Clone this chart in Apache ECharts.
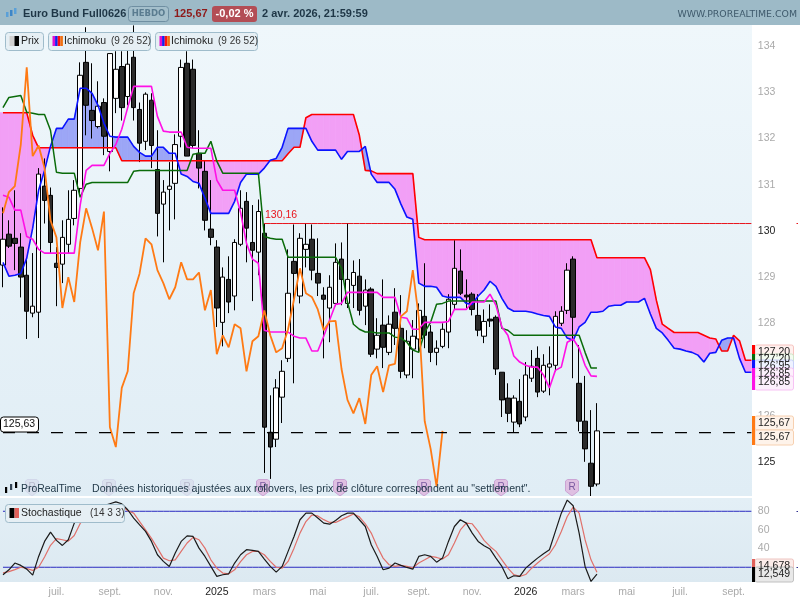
<!DOCTYPE html>
<html><head><meta charset="utf-8">
<style>html,body{margin:0;padding:0;background:#fff}#c{width:800px;height:600px}</style>
<script src="https://cdn.jsdelivr.net/npm/echarts@6/dist/echarts.min.js"></script>
</head><body><div id="c"></div>
<script>
const opens=[129.26,129.93,129.84,129.65,129.04,128.22,128.24,130.97,130.77,129.30,
129.28,129.71,130.27,130.92,133.65,132.61,132.26,132.78,131.72,132.87,
133.56,132.91,133.76,132.63,131.94,132.83,131.33,130.58,130.90,131.03,
132.05,133.63,133.50,131.68,131.29,130.04,129.65,128.02,128.95,128.59,
129.71,130.64,129.75,129.54,129.95,125.64,125.49,126.40,127.24,129.34,
128.59,129.60,129.82,129.08,128.61,128.33,128.43,129.39,128.43,128.82,
129.02,128.37,128.74,127.44,127.96,127.37,128.24,127.89,126.88,127.44,
127.66,128.15,127.81,127.37,127.50,127.81,128.41,129.13,128.61,128.63,
128.17,127.72,128.09,128.13,126.94,126.38,125.86,126.31,125.97,126.81,
127.24,126.53,127.05,127.09,128.00,128.28,129.39,126.70,125.88,124.97,124.52];
const closes=[129.82,129.67,129.73,129.00,128.26,128.37,131.23,130.66,129.75,129.21,
129.86,130.25,130.88,133.37,132.72,132.39,132.70,132.05,133.84,133.50,
132.67,133.61,132.67,131.90,132.96,131.85,130.38,130.84,130.97,131.87,
133.54,131.62,131.85,131.36,130.23,129.86,128.33,129.00,128.46,129.75,
130.49,130.06,129.58,130.42,125.75,125.32,126.60,126.96,128.65,129.08,
129.84,129.71,129.15,128.87,128.52,128.78,129.32,128.95,128.95,129.10,
128.28,128.72,127.33,127.74,127.48,127.98,127.89,126.96,127.61,127.72,
128.28,127.74,127.37,127.46,127.87,128.52,129.19,128.65,128.57,128.30,
127.85,128.04,128.05,127.01,126.34,126.05,126.38,125.82,126.88,127.07,
126.51,127.09,127.12,128.15,128.26,129.15,128.13,125.88,125.28,124.47,125.67];
const highs=[130.51,130.23,130.88,129.95,129.41,129.52,131.36,131.57,130.94,129.65,
130.23,130.88,131.10,133.65,134.41,133.63,133.24,132.87,133.84,133.89,
133.89,133.91,134.45,132.78,133.00,132.98,132.18,131.10,131.49,132.09,
133.71,133.89,133.71,132.18,131.53,131.10,129.80,129.21,129.45,129.82,
130.88,130.84,130.56,130.68,130.16,126.44,126.79,127.20,129.60,130.14,
129.95,130.17,130.14,129.84,128.78,129.04,129.73,129.75,130.17,129.36,
129.39,128.95,128.78,128.11,128.95,128.17,128.76,128.61,127.85,128.07,
128.43,129.30,127.96,127.63,128.00,128.63,129.80,129.60,128.95,128.67,
128.63,128.30,128.41,128.17,126.94,126.70,126.44,126.79,127.16,127.42,
127.50,127.33,127.50,128.26,128.37,129.30,129.45,127.53,126.86,126.12,126.27];
const lows=[128.78,129.63,129.15,128.56,127.66,128.13,127.68,130.16,129.52,128.37,
128.87,129.52,130.12,130.77,132.07,132.00,132.22,131.64,131.29,132.55,
132.39,132.72,132.39,131.49,131.75,131.36,129.88,129.32,130.01,130.25,
131.81,131.62,131.79,130.92,130.01,129.69,127.92,127.50,128.22,128.28,
129.67,129.32,128.48,129.04,124.76,124.63,125.32,125.84,127.16,126.70,
128.43,129.21,128.93,128.59,127.24,127.59,128.37,128.39,128.33,128.33,
128.17,127.96,127.27,127.24,127.03,127.31,127.53,126.81,126.81,126.81,
127.37,127.46,127.16,127.09,127.46,127.46,128.30,128.61,128.33,128.17,
127.72,127.57,127.92,126.88,125.97,125.86,125.64,125.75,125.88,126.73,
126.40,126.49,126.44,126.96,127.94,128.20,126.81,125.66,125.00,124.24,124.47];
const senkouB=[132.56,132.56,132.56,132.56,132.56,132.07,
131.80,131.80,131.80,131.80,131.80,131.80,131.80,131.80,131.80,131.80,131.80,131.80,131.80,131.80,
131.52,131.52,131.52,131.52,131.52,131.52,131.52,131.52,131.52,131.52,131.52,131.52,131.52,131.52,
131.52,131.52,131.52,131.52,131.52,131.52,131.52,131.52,131.52,131.52,131.52,131.52,131.52,131.52,
131.67,131.81,131.81,132.45,132.52,132.52,132.52,132.52,132.52,132.52,132.52,132.52,
132.07,131.31,131.30,131.24,131.24,131.24,131.24,131.24,131.24,131.24,129.86,
129.81,129.81,129.81,129.81,129.81,129.81,129.81,129.81,129.81,129.81,129.81,129.81,129.81,129.81,129.81,
129.81,129.81,129.81,129.81,129.81,129.81,129.81,129.81,129.81,129.81,129.81,129.81,129.81,129.81,
129.42,129.42,129.42,129.42,129.42,129.42,129.42,129.42,129.42,
129.16,128.50,127.98,127.89,127.80,127.80,127.80,127.80,127.80,127.74,127.68,127.66,127.40,127.40,127.74,127.62,127.20,127.20];
const senkouA=[129.32,129.02,129.04,129.08,129.41,130.06,130.88,131.31,131.83,132.22,
132.22,132.42,132.42,133.09,133.09,132.98,132.72,132.33,132.05,132.03,
132.03,132.03,131.83,131.70,131.62,131.62,131.81,131.81,131.68,131.68,
131.23,131.18,131.07,131.03,130.71,130.38,130.38,130.38,130.38,130.64,
131.05,131.23,131.23,131.23,131.36,131.53,131.57,131.81,132.22,132.22,
132.22,132.22,131.94,131.75,131.75,131.75,131.75,131.55,131.72,131.72,
131.72,131.83,131.23,131.05,131.05,131.05,130.90,130.58,130.30,130.25,
128.87,128.80,128.80,128.78,128.59,128.56,128.56,128.56,128.43,128.41,
128.59,128.72,128.91,128.80,128.54,128.33,128.26,128.26,128.26,128.24,
128.20,128.17,128.15,127.92,127.89,127.68,127.63,127.92,128.02,128.24,
128.24,128.26,128.37,128.39,128.39,128.46,128.46,128.46,128.54,128.20,
127.89,127.79,127.63,127.46,127.44,127.40,127.37,127.31,127.16,127.35,
127.37,127.63,127.68,127.68,127.24,126.94,126.94];
const kijun=[132.67,132.89,132.91,132.93,132.57,132.55,132.52,132.52,132.18,131.27,
131.25,131.25,131.25,130.73,131.01,131.05,131.05,131.05,131.05,131.05,
131.05,131.05,131.29,131.31,131.31,131.31,131.31,131.31,131.31,131.31,
131.31,131.31,131.66,131.68,131.68,131.94,131.51,131.25,131.25,131.25,
131.25,131.25,131.25,131.25,129.88,129.84,129.82,129.82,129.43,129.43,
129.43,129.43,129.43,129.43,129.43,129.43,129.43,129.19,128.46,127.98,
127.87,127.81,127.81,127.79,127.79,127.79,127.70,127.68,127.59,127.42,
127.37,127.81,128.02,128.41,128.43,128.48,128.48,128.48,128.48,128.48,
128.48,128.48,128.48,128.48,127.89,127.85,127.74,127.74,127.74,127.74,
127.74,127.74,127.74,127.74,127.74,127.74,127.74,127.74,127.37,127.03,127.03];
const tenkan=[130.77,130.73,130.45,130.45,129.88,129.82,129.60,129.52,129.52,129.52,
129.52,129.52,129.52,130.56,131.31,131.42,131.42,131.42,131.68,131.87,
132.20,132.67,133.13,133.13,133.13,133.13,132.48,132.16,132.14,132.14,
132.14,131.81,131.79,131.79,131.79,131.79,131.10,130.88,130.88,130.88,
130.40,129.73,129.39,129.30,127.85,127.81,127.81,127.81,127.81,127.72,
127.68,127.68,127.40,127.40,127.72,128.07,128.41,128.43,128.67,128.67,
128.67,128.67,128.67,128.67,128.56,128.56,128.56,128.13,128.11,127.87,
127.87,128.02,128.02,128.02,128.02,128.04,128.30,128.30,128.30,128.46,
128.46,128.46,128.63,128.39,127.92,127.74,127.29,127.16,127.09,127.05,
127.05,126.88,126.60,126.98,127.05,127.59,127.66,127.46,127.09,126.86,126.85];
const chikou=[130.38,130.84,130.97,131.87,133.54,131.62,131.85,131.36,130.23,129.86,
128.33,129.00,128.46,129.75,130.49,130.06,129.58,130.42,125.75,125.32,
126.60,126.96,128.65,129.08,129.84,129.71,129.15,128.87,128.52,128.78,
129.32,128.95,128.95,129.10,128.28,128.72,127.33,127.74,127.48,127.98,
127.89,126.96,127.61,127.72,128.28,127.74,127.37,127.46,127.87,128.52,
129.19,128.65,128.57,128.30,127.85,128.04,128.05,127.01,126.34,126.05,
126.38,125.82,126.88,127.07,126.51,127.09,127.12,128.15,128.26,129.15,
128.13,125.88,125.28,124.47,125.67];
const stochK=[12,17.3,24.5,22,18,11.6,31.6,47.7,57.7,48.8,
43.4,49.5,67.3,78,80,84,84,86,88,90,
88,81.6,72.7,65.5,58.4,47.7,33.4,26.3,20.9,35.2,
47.7,53.7,53,40.5,31.6,20.9,10.2,12,13,24.5,
33.4,38.8,38,37,28.8,20.9,14.8,20.9,37,53,
70.9,78,78,72.7,67.3,66.2,70.2,75.2,78,78,
70.9,63.7,44.1,31.6,17.3,19.1,24.5,22,19.8,18,
31.6,33.4,31.6,25.5,29.8,47.7,63.7,70.9,67.3,56.6,
47.7,43,39.5,29.8,20.9,7.7,10.9,10.2,19.1,24.5,
29.8,34.5,38.8,58.4,78,92,85.9,56.6,20.9,4.8,12.55];
const stochD=[14,15.3,17.5,20,18.7,16.6,20,31,43.5,50.6,
49.5,48,54,67,75,80,83,84,86,87,
86,80.5,78,69,60,51,40.5,29.8,27,28,
37,46,52,49.5,40.5,28,19,13.8,13,17.3,
26,33.4,37,37,33.4,26.3,20,19,26.3,40.5,
56.6,69,76,75,71,68,68,71,74,77,
74,66.6,56.6,42.3,29.8,22.7,20.9,22,20.9,19.5,
24.5,28,31.6,30.5,28.8,33.4,46,60,67.3,66.6,
58.4,48.8,42.3,37,28,19,12.2,10.2,12.2,19,
24.5,29.8,34.5,44,58.4,74.4,84.4,78,49.5,28,14.68];
const lastPriceLevel=125.63, highLevel=130.16, highStart=44, stochLevels=[80,20];
const tickIndex=[9,18,27,36,44,53,62,70,79,88,96,105,114,123];
const tickText=['juil.','sept.','nov.','2025','mars','mai','juil.','sept.','nov.','2026','mars','mai','juil.','sept.'];
const categories=senkouB.map((_,i)=>String(i));
const ohlc=opens.map((o,i)=>[o,closes[i],lows[i],highs[i]]);
const FF="'Liberation Sans'";
const G=echarts.graphic;

function renderCloud(params,api){
  const i=params.dataIndex;
  if(i>=senkouA.length-1) return null;
  const a0=api.coord([i,senkouA[i]]),a1=api.coord([i+1,senkouA[i+1]]);
  const b0=api.coord([i,senkouB[i]]),b1=api.coord([i+1,senkouB[i+1]]);
  const COL=(d)=>d>=0?'#f29ff6':'#9ca6f6';
  const d0=senkouB[i]-senkouA[i],d1=senkouB[i+1]-senkouA[i+1];
  const poly=(pts,c)=>({type:'polygon',shape:{points:pts},style:{fill:c,stroke:c,lineWidth:.8}});
  if(d0*d1>=0){
    const pts=[a0,a1,b1,b0];
    if(i===0){ pts[0]=[0,a0[1]]; pts[3]=[0,b0[1]]; pts.splice(1,0,a0); pts.splice(4,0,b0); }
    return poly(pts,COL(d0!==0?d0:d1));
  }
  const t=d0/(d0-d1);
  const m=[a0[0]+(a1[0]-a0[0])*t,a0[1]+(a1[1]-a0[1])*t];
  return {type:'group',children:[poly([a0,m,b0],COL(d0)),poly([m,a1,b1],COL(d1))]};
}
function line(name,data,color,width,extra){
  return Object.assign({name,type:'line',data,symbol:'none',showSymbol:false,silent:true,
    lineStyle:{color,width},z:5,xAxisIndex:0,yAxisIndex:0,animation:false},extra||{});
}
const series=[
 {type:'custom',name:'cloud',data:senkouA.map((a,i)=>[i,a,senkouB[i]]),renderItem:renderCloud,
  encode:{x:0,y:[1,2]},xAxisIndex:0,yAxisIndex:0,z:2,silent:true,animation:false,clip:false},
 {type:'candlestick',name:'Prix',data:ohlc,barWidth:5,xAxisIndex:0,yAxisIndex:0,z:3,silent:true,animation:false,
  itemStyle:{color:'#ffffff',color0:'#2b2b2b',borderColor:'#000',borderColor0:'#000',borderWidth:1}},
 line('level',categories.map(()=>lastPriceLevel),'#000',1.2,{lineStyle:{color:'#000',width:1.2,type:[12,12]},z:6}),
 line('high',categories.map((_,i)=>i>=highStart?highLevel:null),'#e8141c',1,{z:4}),
 line('SpanB',senkouB,'#ff0000',1.6),
 line('SpanA',senkouA,'#0a14ff',1.6),
 line('Kijun',kijun,'#0a6b0a',1.5),
 line('Tenkan',tenkan,'#ff10e6',1.6),
 line('Chikou',chikou,'#ff7a14',1.8),
 line('s80',categories.map(()=>stochLevels[0]),'#2a2ac0',1,{xAxisIndex:1,yAxisIndex:1,z:3}),
 line('s20',categories.map(()=>stochLevels[1]),'#2a2ac0',1,{xAxisIndex:1,yAxisIndex:1,z:3}),
 line('%D',stochD,'#e0706a',1.2,{xAxisIndex:1,yAxisIndex:1,z:4}),
 line('%K',stochK,'#1a1a1a',1.2,{xAxisIndex:1,yAxisIndex:1,z:5})
];
const els=[];
function rect(x,y,w,h,fill,stroke,r,z,lw){els.push({type:'rect',silent:true,z:z===undefined?100:z,shape:{x,y,width:w,height:h,r:r||0},style:{fill,stroke:stroke||null,lineWidth:lw||1}});}
function text(x,y,t,fill,font,z,align){els.push({type:'text',silent:true,z:z===undefined?101:z,style:{x,y,text:t,fill,font,align:align||'left',verticalAlign:'middle'}});}
const grad=(c0,c1)=>new G.LinearGradient(0,0,0,1,[{offset:0,color:c0},{offset:1,color:c1}]);
// panels
rect(0,25,752,471,grad('#eff7fb','#e0edf5'),null,0,-10);
rect(0,498,752,84,grad('#e3eff6','#dce9f1'),null,0,-10);
rect(0,496,752,2,'#fff',null,0,90);
rect(752,25,48,471,'#fff',null,0,-9);
// header
rect(0,0,800,25,'#9dbac7',null,0,100);
[[6,12,5,'#5aa0d8'],[10,10,6,'#3d86c8'],[14,8,6,'#5aa0d8']].forEach(c=>{rect(c[0],c[1],2.5,c[2],c[3],null,0,101);});
text(23,14,'Euro Bund Full0626','#1e3646',"bold 11px "+FF);
rect(128.5,6.5,40,15,'rgba(255,255,255,0.08)','#6f8fa2',3,101);
text(148.5,14,'HEBDO','#5a7c90',"bold 8.5px 'DejaVu Sans'",102,'center');
text(174,14,'125,67','#8e1a1a',"bold 11px "+FF);
rect(212,6,45,16,'#b34d55',null,3,101);
text(234.5,14,'-0,02 %','#ffffff',"bold 11px "+FF,102,'center');
text(262,14,'2 avr. 2026, 21:59:59','#1e3646',"bold 11px "+FF);
text(797,15,'WWW.PROREALTIME.COM','#3f5a6c',"9.4px 'DejaVu Sans'",101,'right');
// legend boxes
function box(x,y,w,h){rect(x+.5,y+.5,w,h,'#e6eff4','#9fbccb',3,101);}
box(5,32,38,18);
rect(9.5,36,5,10,'#d0d0d0',null,0,102);rect(14.5,36,4.5,10,'#000',null,0,102);
text(21,41.5,'Prix','#222',"10.5px "+FF,102);
[[48],[155]].forEach(b=>{const x=b[0];box(x,32,102,18);
 [['#e010d0',0],['#1020f0',2.6],['#ff1010',5.2],['#f07010',7.8]].forEach(s=>rect(x+4.5+s[1],36,2.6,10,s[0],null,0,102));
 text(x+16,41.5,'Ichimoku','#222',"10.5px "+FF,102);
 text(x+63,41.5,'(9 26 52)','#333',"10px "+FF,102);
});
box(5,504,119,18);
rect(9.5,508,5,10,'#000',null,0,102);rect(14.5,508,4.5,10,'#e0605a',null,0,102);
text(21,513.5,'Stochastique','#222',"10.5px "+FF,102);
text(90,513.5,'(14 3 3)','#333',"10px "+FF,102);
// R markers
function marker(x,strong){
 const c=strong?'#dfc0e2':'rgba(210,210,230,0.45)';
 const s=strong?'#cba4d4':'rgba(200,200,225,0.5)';
 els.push({type:'polygon',silent:true,z:strong?60:20,shape:{points:[[x-6.5,481],[x-4.5,479.5],[x+4.5,479.5],[x+6.5,481],[x+6.5,491],[x,496],[x-6.5,491]]},style:{fill:c,stroke:s,lineWidth:1}});
 text(x,487,'R',strong?'#7a5aa0':'#b8b8cc',"10px "+FF,strong?61:21,'center');
}
[32,109,187].forEach(x=>marker(x,false));
[263,340,424,501,572].forEach(x=>marker(x,true));
// footer icon+text
[[5,487,6,'#000'],[10,484,6,'#345'],[15,482,6,'#000']].forEach(c=>rect(c[0],c[1],2.2,c[2],c[3],null,0,70));
text(21,489,'ProRealTime','#1e3646',"10.4px "+FF,70);
text(92,489,'Données historiques ajustées aux rollovers, les prix de clôture correspondent au "settlement".','#1e3646',"10.6px "+FF,70);
// left labels
rect(.5,417,38,15,'#fff','#000',3,80);
text(3,424.5,'125,63','#111',"10.5px "+FF,81);
text(265,215,'130,16','#e8141c',"10.5px "+FF,80);
// right value boxes
function vbox(y,h,barColor,fill,stroke,t,ty,col){
 rect(755,y,38.5,h,fill,stroke,2,110);
 rect(752,y,3,h,barColor,null,0,111);
 text(758,ty,t,col||'#222',"10.5px "+FF,111);
}
[[345,14,'#ff0000','#fff0ee','#f7c4c0','127,20',352.5],
 [354,14,'#0a6b0a','#f3fbf0','#cfe5c8','127,20',359],
 [360,14,'#0a14ff','#eef2ff','#c8d0fa','126,95',366.5],
 [368,14,'#ff10e6','#fdf0fc','#f7c2f4','126,85',374],
 [376,14,'#ff10e6','#fdf0fc','#f7c2f4','126,85',382.5],
 [416,14,'#ff7a14','#fef3ea','#f7d0b0','125,67',423],
 [430,15,'#ff7a14','#fef3ea','#f7d0b0','125,67',437.5],
 [559,14,'#e0605a','#fbecea','#eec4c0','14,678',566],
 [567,15,'#000','#e8e8e8','#c0c0c0','12,549',574.5]
].forEach(v=>vbox(v[0],v[1],v[2],v[3],v[4],v[5],v[6]));
rect(796.5,223,1.5,1,'#e8141c',null,0,90);
rect(796.5,511,1.5,1,'#303090',null,0,90);
rect(796.5,567,1.5,1,'#303090',null,0,90);

const chart=echarts.init(document.getElementById('c'),null,{renderer:'canvas'});
chart.setOption({
 animation:false,backgroundColor:'#ffffff',
 grid:[{left:-1.65,width:756,top:-0.42,height:508.42,containLabel:false},
       {left:-1.65,width:756,top:492.6,height:93.33,containLabel:false}],
 xAxis:[{type:'category',gridIndex:0,data:categories,show:false,boundaryGap:true},
        {type:'category',gridIndex:1,data:categories,boundaryGap:true,
         axisLine:{show:false},axisTick:{show:false},
         axisLabel:{interval:0,margin:1,hideOverlap:false,fontFamily:'Liberation Sans',fontSize:10.5,
          formatter:(v,i)=>{const k=tickIndex.indexOf(i);return k>=0?tickText[k]:'';},
          color:(v,i)=>{const k=tickIndex.indexOf(Number(v));return (k>=0&&/^\d+$/.test(tickText[k]))?'#222':'#aaaaaa';}}}],
 yAxis:[{type:'value',gridIndex:0,position:'right',min:124,max:135,interval:1,
         axisLine:{show:false},axisTick:{show:false},splitLine:{show:false},
         axisLabel:{margin:3.5,fontFamily:'Liberation Sans',fontSize:10.5,showMinLabel:false,showMaxLabel:false,
          padding:[0,0,4,0],
          color:(v)=>(Number(v)===130||Number(v)===125)?'#222':'#aaaaaa'}},
        {type:'value',gridIndex:1,position:'right',min:0,max:100,interval:20,
         axisLine:{show:false},axisTick:{show:false},splitLine:{show:false},
         axisLabel:{margin:3.5,fontFamily:'Liberation Sans',fontSize:10.5,color:'#aaaaaa',padding:[0,0,3,0],
          formatter:(v)=>(v===0||v===100)?'':String(v)}}],
 series,
 graphic:{elements:els}
});
</script></body></html>
